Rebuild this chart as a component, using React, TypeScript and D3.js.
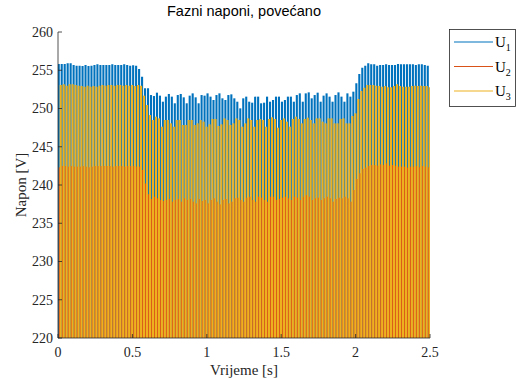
import * as d3 from "d3";

// peak value of every 50 Hz cycle (20 ms)
const u1Peaks = [
  255.82, 255.82, 255.82, 255.9, 255.9, 255.69, 255.6, 255.6, 255.56, 255.69,
  255.56, 255.6, 255.69, 255.77, 255.69, 255.69, 255.69, 255.69, 255.77, 255.69,
  255.69, 255.69, 255.77, 255.69, 255.6, 255.65, 255.6, 255.16, 254.16, 252.64,
  252.64, 251.76, 251.63, 252.07, 251.68, 250.89, 251.55, 251.9, 251.55, 250.68,
  251.76, 251.9, 251.46, 250.68, 251.68, 251.98, 251.46, 250.68, 251.76, 251.68,
  251.98, 251.55, 251.11, 251.76, 251.98, 251.33, 251.11, 251.76, 251.85, 251.33,
  250.89, 250.02, 251.33, 251.55, 250.89, 250.76, 251.55, 251.55, 250.68, 250.76,
  251.55, 250.89, 251.11, 251.55, 251.55, 250.89, 251.11, 251.55, 251.55, 250.89,
  251.76, 251.98, 250.89, 251.98, 252.11, 251.33, 251.76, 252.07, 250.89, 251.68,
  251.98, 251.55, 250.89, 251.76, 252.11, 251.55, 250.89, 251.98, 251.55, 252.2,
  253.29, 254.51, 255.34, 255.6, 255.9, 255.77, 255.77, 255.6, 255.69, 255.69,
  255.77, 255.69, 255.69, 255.69, 255.82, 255.77, 255.77, 255.77, 255.77, 255.77,
  255.69, 255.77, 255.77, 255.69, 255.6,
];
const u2Peaks = [
  242.31, 242.48, 242.48, 242.4, 242.48, 242.4, 242.4, 242.4, 242.48, 242.4,
  242.31, 242.4, 242.48, 242.48, 242.48, 242.48, 242.48, 242.48, 242.4, 242.48,
  242.48, 242.48, 242.4, 242.48, 242.48, 242.48, 242.4, 242.4, 241.96, 240.2,
  238.8, 238.17, 238.47, 238.26, 238.04, 237.91, 238.04, 238.17, 237.82, 238.04,
  238.17, 237.82, 238.26, 238.04, 238.17, 237.82, 237.6, 238.17, 237.91, 238.04,
  237.6, 238.04, 238.26, 237.82, 237.47, 238.04, 238.17, 237.6, 237.82, 238.26,
  238.34, 238.04, 237.82, 238.34, 238.47, 238.04, 237.82, 238.47, 238.34, 238.04,
  237.82, 238.47, 238.47, 238.04, 238.17, 238.34, 238.47, 238.26, 238.04, 238.47,
  238.34, 238.04, 238.47, 238.69, 238.47, 238.04, 238.26, 238.34, 238.04, 238.26,
  238.47, 238.26, 237.82, 238.17, 238.34, 238.26, 238.47, 238.26, 237.82, 239.35,
  240.78, 241.53, 242.09, 242.27, 242.48, 242.61, 242.61, 242.53, 242.7, 242.61,
  242.83, 242.53, 242.61, 242.53, 242.4, 242.4, 242.4, 242.27, 242.4, 242.4,
  242.48, 242.31, 242.48, 242.4, 242.31,
];
const u3Peaks = [
  253.07, 253.16, 252.98, 253.16, 253.16, 253.07, 252.98, 252.94, 252.85, 252.98,
  252.85, 252.94, 252.85, 252.98, 253.07, 252.98, 253.07, 253.07, 252.98, 253.07,
  253.07, 252.98, 253.07, 252.98, 253.07, 252.94, 253.07, 252.98, 251.68, 250.46,
  249.15, 248.5, 248.93, 248.71, 247.62, 248.5, 248.5, 248.06, 247.62, 248.5,
  248.5, 247.84, 247.84, 248.5, 248.5, 247.84, 248.06, 248.5, 248.28, 247.62,
  247.93, 248.63, 248.63, 247.71, 247.93, 248.71, 248.5, 247.84, 248.06, 248.71,
  248.5, 247.62, 248.06, 248.71, 248.5, 247.62, 248.5, 248.63, 248.5, 247.62,
  248.63, 248.85, 248.63, 247.49, 248.5, 248.71, 248.28, 247.62, 248.63, 248.93,
  248.63, 248.06, 248.63, 248.8, 248.5, 248.06, 248.71, 248.71, 248.28, 248.06,
  248.71, 248.71, 248.06, 248.06, 248.63, 248.71, 248.06, 248.06, 249.02, 249.37,
  251.24, 252.29, 252.72, 253.07, 253.07, 253.07, 252.98, 252.94, 252.85, 252.94,
  252.78, 252.78, 252.94, 253.16, 252.94, 252.85, 252.85, 252.85, 252.94, 252.98,
  252.94, 252.98, 252.94, 252.94, 252.78,
];

const seriesNames = ["1", "2", "3"];
const seriesColors = ["#0072BD", "#D95319", "#EDB120"];
// where in each cycle the phase reaches its peak (fraction of period)
const peakPhase = [0.25, 0.25 + 1 / 3, 0.25 + 2 / 3];
const period = 0.02;

const xTicks = [0, 0.5, 1, 1.5, 2, 2.5];
const yTicks = [220, 225, 230, 235, 240, 245, 250, 255, 260];

const W = 518, H = 379;
const m = { left: 58, right: 430, top: 32, bottom: 338 };

export default function App() {
  const x = d3.scaleLinear([0, 2.5], [m.left, m.right]);
  const y = d3.scaleLinear([220, 260], [m.bottom, m.top]);
  const all = [u1Peaks, u2Peaks, u3Peaks];
  const axisCol = "#262626";
  const serif = "'Liberation Serif', 'Times New Roman', serif";

  return (
    <svg width={W} height={H} style={{ position: "absolute", left: 0, top: 0, background: "#fff" }}>
      <defs>
        <clipPath id="plot">
          <rect x={m.left} y={m.top} width={m.right - m.left} height={m.bottom - m.top} />
        </clipPath>
      </defs>
      <g clipPath="url(#plot)">
        {all.map((peaks, s) => (
          <g key={s} stroke={seriesColors[s]} strokeWidth={2.1}>
            {peaks.map((v, i) => {
              const px = x((i + peakPhase[s]) * period);
              return <line key={i} x1={px} x2={px} y1={y(219)} y2={y(v)} />;
            })}
          </g>
        ))}
      </g>

      {/* axes */}
      <g stroke={axisCol} strokeWidth={0.8} fill="none">
        <line x1={m.left} x2={m.left} y1={m.top} y2={m.bottom} />
        <line x1={m.left} x2={m.right} y1={m.bottom} y2={m.bottom} />
        {yTicks.map((t) => (
          <line key={t} x1={m.left} x2={m.left + 4} y1={y(t)} y2={y(t)} />
        ))}
        {xTicks.map((t) => (
          <line key={t} x1={x(t)} x2={x(t)} y1={m.bottom} y2={m.bottom - 4} />
        ))}
      </g>
      <g fontFamily={serif} fontSize={14} fill={axisCol}>
        {yTicks.map((t) => (
          <text key={t} x={m.left - 5} y={y(t)} dy="0.35em" textAnchor="end">{t}</text>
        ))}
        {xTicks.map((t) => (
          <text key={t} x={x(t)} y={m.bottom + 19} textAnchor="middle">{t}</text>
        ))}
        <text x={(m.left + m.right) / 2} y={375} textAnchor="middle" fontSize={15}>Vrijeme [s]</text>
        <text transform={`translate(26,${(m.top + m.bottom) / 2}) rotate(-90)`} textAnchor="middle" fontSize={15}>Napon [V]</text>
      </g>
      <text x={(m.left + m.right) / 2} y={16} textAnchor="middle" fontFamily="'Liberation Sans', Arial, sans-serif" fontSize={14.5} fill="#000">
        Fazni naponi, povećano
      </text>

      {/* legend */}
      <rect x={449.5} y={29.5} width={66} height={77} fill="#fff" stroke={axisCol} strokeWidth={0.8} />
      {seriesNames.map((n, i) => (
        <g key={n} transform={`translate(0,${42 + i * 24.5})`}>
          <line x1={454} x2={493} y1={0} y2={0} stroke={seriesColors[i]} strokeWidth={1.2} />
          <text x={495} y={5} fontFamily={serif} fontSize={15} fill="#000">
            U<tspan fontSize={10} dy={4}>{n}</tspan>
          </text>
        </g>
      ))}
    </svg>
  );
}
